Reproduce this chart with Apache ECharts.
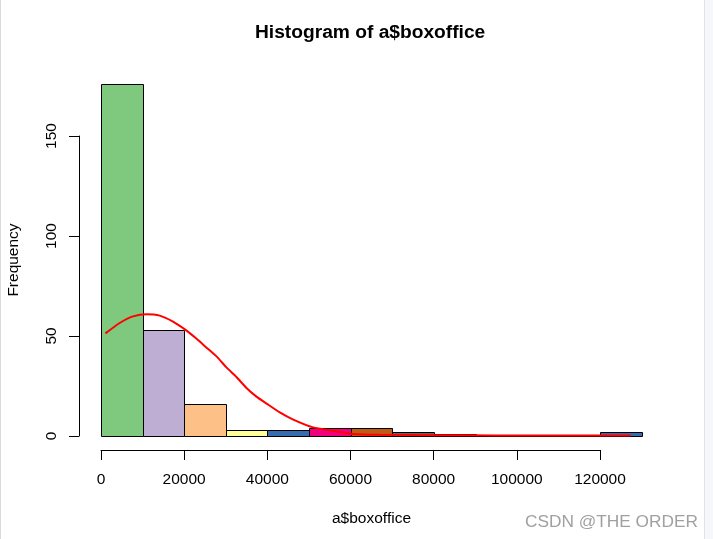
<!DOCTYPE html>
<html>
<head>
<meta charset="utf-8">
<style>
    html, body { margin: 0; padding: 0; background: #fff; overflow: hidden; }
    .strip-left { position: absolute; left: 0; top: 0; width: 1px; height: 539px; background: #d5dbe1; }
    .strip-right { position: absolute; left: 704px; top: 0; width: 9px; height: 539px; background: #f5f7fa; border-left: 1px solid #dfe3e8; box-sizing: border-box; }
    #main { position: absolute; left: 0; top: 0; width: 713px; height: 539px; }
</style>
</head>
<body>
<div class="strip-left"></div>
<div class="strip-right"></div>
<div id="main"></div>
<script src="https://cdn.jsdelivr.net/npm/echarts@6/dist/echarts.min.js"></script>
<script>
// histogram bins
const binStarts = [0, 10000, 20000, 30000, 40000, 50000, 60000, 70000, 80000, 90000, 100000, 110000, 120000]
const binWidth = 10000
const counts = [176, 53, 16, 3, 3, 4, 4, 2, 1, 0, 0, 0, 2]
const barColors = [
    '#7FC97F',
    '#BEAED4',
    '#FDC086',
    '#FFFF99',
    '#386CB0',
    '#F0027F',
    '#BF5B17',
    '#666666',
    '#7FC97F',
    '#BEAED4',
    '#FDC086',
    '#FFFF99',
    '#386CB0',
]
// red curve
const curveX = [
    1060, 4500, 7700, 10900, 14100, 17300, 20500, 22900, 25300, 27750, 30150, 32550, 34950, 37350, 39800, 42970, 46200,
    50970, 55800, 60600, 67000, 81870, 95000, 110000, 127300,
]
const curveY = [
    51.3, 56.5, 59.8, 60.9, 60.2, 57.2, 52.8, 48.7, 44.3, 39.8, 34.3, 29.5, 24, 19.7, 16.2, 11.8, 8.2, 4.3, 2.6, 1, 0.6,
    0.4, 0.3, 0.3, 0.3,
]
// tick steps
const xMax = 130000
const xTickMax = 120000
const xTickStep = 20000
const yMax = 176
const yTickMax = 150
const yTickStep = 50

const fontName = '"Liberation Sans", Arial, sans-serif'
const textColor = '#000'
const axisLabelSize = 15.5
const axisLine = { show: true, onZero: false, lineStyle: { color: '#000', width: 1 } }
const axisTick = { show: true, length: 10, lineStyle: { color: '#000', width: 1 } }

const myChart = echarts.init(document.querySelector('#main'))

const crisp = (v) => Math.round(v) + 0.5

const renderBin = (params, api) => {
    const start = api.coord([api.value(0), 0])
    const end = api.coord([api.value(0) + binWidth, api.value(1)])
    const x0 = crisp(start[0]),
        x1 = crisp(end[0]),
        y0 = crisp(start[1]),
        y1 = crisp(end[1])
    return {
        type: 'rect',
        shape: { x: x0, y: y1, width: x1 - x0, height: y0 - y1 },
        style: { fill: barColors[params.dataIndex], stroke: '#000', lineWidth: 1 },
    }
}

const hiddenAxis = (gridIndex) => ({ type: 'value', gridIndex: gridIndex, show: false, min: 0, max: 1 })

const option = {
    animation: false,
    backgroundColor: 'transparent',
    textStyle: { fontFamily: fontName },
    title: {
        text: 'Histogram of a$boxoffice',
        left: 255,
        top: 23,
        padding: 0,
        textStyle: { fontFamily: fontName, fontSize: 19.2, fontWeight: 'bold', color: textColor },
    },
    graphic: [
        {
            type: 'text',
            right: 15,
            top: 514,
            style: { text: 'CSDN @THE ORDER', fontFamily: fontName, fontSize: 17.3, fill: '#a0a0a0' },
        },
    ],
    grid: [
        // plot area
        { left: 101, top: 84, width: 541, height: 352, outerBoundsMode: 'none' },
        // x axis, below the plot and only as far as the last tick
        { left: 101, top: 440, width: 499, height: 10, outerBoundsMode: 'none' },
        // y axis, left of the plot and only as far as the last tick
        { left: 79, top: 136, width: 10, height: 300, outerBoundsMode: 'none' },
    ],
    xAxis: [
        {
            type: 'value',
            gridIndex: 0,
            min: 0,
            max: xMax,
            splitLine: { show: false },
            axisLine: { show: false },
            axisTick: { show: false },
            axisLabel: { show: false },
            name: 'a$boxoffice',
            nameLocation: 'middle',
            nameGap: 75,
            nameTextStyle: { fontFamily: fontName, fontSize: axisLabelSize, color: textColor },
        },
        {
            type: 'value',
            gridIndex: 1,
            position: 'bottom',
            min: 0,
            max: xTickMax,
            interval: xTickStep,
            splitLine: { show: false },
            axisLine: axisLine,
            axisTick: axisTick,
            axisLabel: {
                margin: 22,
                fontFamily: fontName,
                fontSize: axisLabelSize,
                color: textColor,
                hideOverlap: false,
                formatter: (v) => String(v),
            },
        },
        hiddenAxis(2),
    ],
    yAxis: [
        {
            type: 'value',
            gridIndex: 0,
            min: 0,
            max: yMax,
            splitLine: { show: false },
            axisLine: { show: false },
            axisTick: { show: false },
            axisLabel: { show: false },
            name: 'Frequency',
            nameLocation: 'middle',
            nameGap: 79,
            nameTextStyle: { fontFamily: fontName, fontSize: axisLabelSize, color: textColor },
        },
        hiddenAxis(1),
        {
            type: 'value',
            gridIndex: 2,
            position: 'left',
            min: 0,
            max: yTickMax,
            interval: yTickStep,
            splitLine: { show: false },
            axisLine: axisLine,
            axisTick: axisTick,
            axisLabel: { rotate: 90, margin: 19, fontFamily: fontName, fontSize: axisLabelSize, color: textColor },
        },
    ],
    series: [
        {
            type: 'custom',
            xAxisIndex: 0,
            yAxisIndex: 0,
            clip: false,
            renderItem: renderBin,
            encode: { x: 0, y: 1 },
            data: binStarts.map((start, i) => [start, counts[i]]),
            z: 2,
        },
        {
            type: 'line',
            xAxisIndex: 0,
            yAxisIndex: 0,
            smooth: 0.2,
            showSymbol: false,
            lineStyle: { color: '#FF0000', width: 2 },
            data: curveX.map((x, i) => [x, curveY[i]]),
            z: 3,
        },
    ],
}

myChart.setOption(option)
</script>
</body>
</html>
